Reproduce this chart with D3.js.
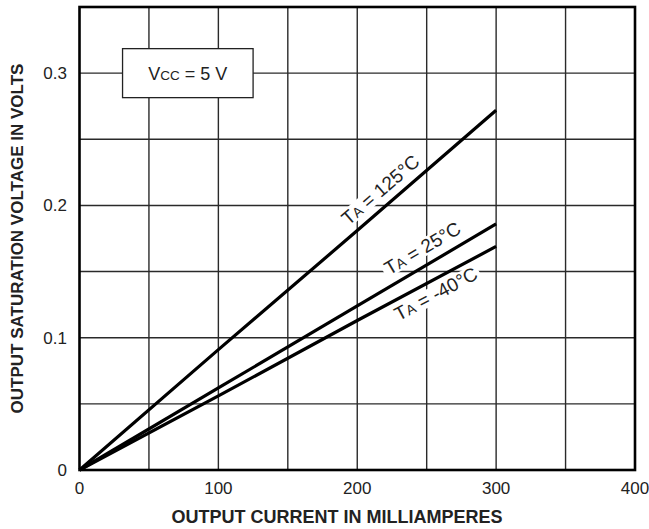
<!DOCTYPE html>
<html>
<head>
<meta charset="utf-8">
<script src="https://cdn.jsdelivr.net/npm/d3@7/dist/d3.min.js"></script>
<style>
  html, body { margin: 0; padding: 0; background: #fff; }
  text { font-family: "Liberation Sans", Arial, sans-serif; fill: #222; }
</style>
</head>
<body>
<svg id="chart" width="649" height="529"></svg>
<script>
// ---- data ----
const currents = [0, 100, 200, 300];           // mA
const vsat125 = [0, 0.091, 0.181, 0.272];       // V, TA = 125°C
const vsat25  = [0, 0.062, 0.124, 0.186];       // V, TA = 25°C
const vsatM40 = [0, 0.056, 0.113, 0.169];       // V, TA = -40°C
const seriesNames = ["125°C", "25°C", "-40°C"];
const xTicks = [0, 100, 200, 300, 400];
const yTicks = [0, 0.1, 0.2, 0.3];
const yTickLabels = ["0", "0.1", "0.2", "0.3"];
const xGrid = [50, 100, 150, 200, 250, 300, 350];
const yGrid = [0.05, 0.1, 0.15, 0.2, 0.25, 0.3];

const svg = d3.select("#chart");
const x = d3.scaleLinear().domain([0, 400]).range([79.5, 635]);
const y = d3.scaleLinear().domain([0, 0.35]).range([470, 7]);

// grid
const g = svg.append("g");
g.selectAll("line.vx").data(xGrid).enter().append("line")
  .attr("x1", d => x(d)).attr("x2", d => x(d))
  .attr("y1", y(0)).attr("y2", y(0.35))
  .attr("stroke", "#2a2a2a").attr("stroke-width", 1.4);
g.selectAll("line.hy").data(yGrid).enter().append("line")
  .attr("x1", x(0)).attr("x2", x(400))
  .attr("y1", d => y(d)).attr("y2", d => y(d))
  .attr("stroke", "#2a2a2a").attr("stroke-width", 1.4);

// Vcc box
const bx = svg.append("g");
bx.append("rect")
  .attr("x", x(31)).attr("y", y(0.3) - 24.5)
  .attr("width", x(125) - x(31)).attr("height", 49)
  .attr("fill", "#fff").attr("stroke", "#222").attr("stroke-width", 1.3);
const vt = bx.append("text")
  .attr("x", (x(31) + x(125)) / 2).attr("y", y(0.3) + 6.5)
  .attr("text-anchor", "middle").attr("font-size", 18);
vt.append("tspan").text("V");
vt.append("tspan").attr("font-size", 13.5).text("CC");
vt.append("tspan").text(" = 5 V");

// series
const series = [vsat125, vsat25, vsatM40].map((vals, i) => ({
  name: seriesNames[i],
  pts: currents.map((c, j) => [c, vals[j]])
}));

// label placement (mA along line, perpendicular offset in px)
const labelAt = [
  { mA: 224, dy: -9 },
  { mA: 253, dy: -10 },
  { mA: 252, dy: 20 }
];

const labelLayer = svg.append("g");
const lineLayer = svg.append("g");
const textLayer = svg.append("g");

const lineGen = d3.line().x(d => x(d[0])).y(d => y(d[1]));
series.forEach((s, i) => {
  lineLayer.append("path").datum(s.pts)
    .attr("d", lineGen)
    .attr("fill", "none").attr("stroke", "#000").attr("stroke-width", 3.2);

  const p0 = s.pts[0], p1 = s.pts[s.pts.length - 1];
  const ang = Math.atan2(y(p1[1]) - y(p0[1]), x(p1[0]) - x(p0[0])) * 180 / Math.PI;
  const mA = labelAt[i].mA;
  const v = d3.scaleLinear().domain(s.pts.map(d => d[0])).range(s.pts.map(d => d[1]))(mA);
  const tg = textLayer.append("g")
    .attr("transform", `translate(${x(mA)},${y(v)}) rotate(${ang})`);
  const t = tg.append("text")
    .attr("text-anchor", "middle").attr("y", labelAt[i].dy)
    .attr("font-size", 19);
  t.append("tspan").text("T");
  t.append("tspan").attr("font-size", 14).text("A");
  t.append("tspan").text(" = " + s.name);
  const bb = t.node().getBBox();
  labelLayer.append("g")
    .attr("transform", `translate(${x(mA)},${y(v)}) rotate(${ang})`)
    .append("rect")
    .attr("x", bb.x - 3).attr("y", bb.y + 2)
    .attr("width", bb.width + 6).attr("height", bb.height - 4)
    .attr("fill", "#fff");
});

// frame
svg.append("rect")
  .attr("x", x(0)).attr("y", y(0.35))
  .attr("width", x(400) - x(0)).attr("height", y(0) - y(0.35))
  .attr("fill", "none").attr("stroke", "#000").attr("stroke-width", 2.6);

// tick labels
svg.selectAll("text.xt").data(xTicks).enter().append("text")
  .attr("x", d => x(d)).attr("y", 494)
  .attr("text-anchor", "middle").attr("font-size", 17)
  .text(d => d);
svg.selectAll("text.yt").data(yTicks).enter().append("text")
  .attr("x", 67).attr("y", d => y(d) + 6)
  .attr("text-anchor", "end").attr("font-size", 17)
  .text((d, i) => yTickLabels[i]);

// axis titles
svg.append("text")
  .attr("x", 337).attr("y", 523)
  .attr("text-anchor", "middle").attr("font-size", 18).attr("font-weight", "bold")
  .text("OUTPUT CURRENT IN MILLIAMPERES");
svg.append("text")
  .attr("transform", `translate(23,${(y(0) + y(0.35)) / 2}) rotate(-90)`)
  .attr("text-anchor", "middle").attr("font-size", 17).attr("font-weight", "bold")
  .text("OUTPUT SATURATION VOLTAGE IN VOLTS");
</script>
</body>
</html>
